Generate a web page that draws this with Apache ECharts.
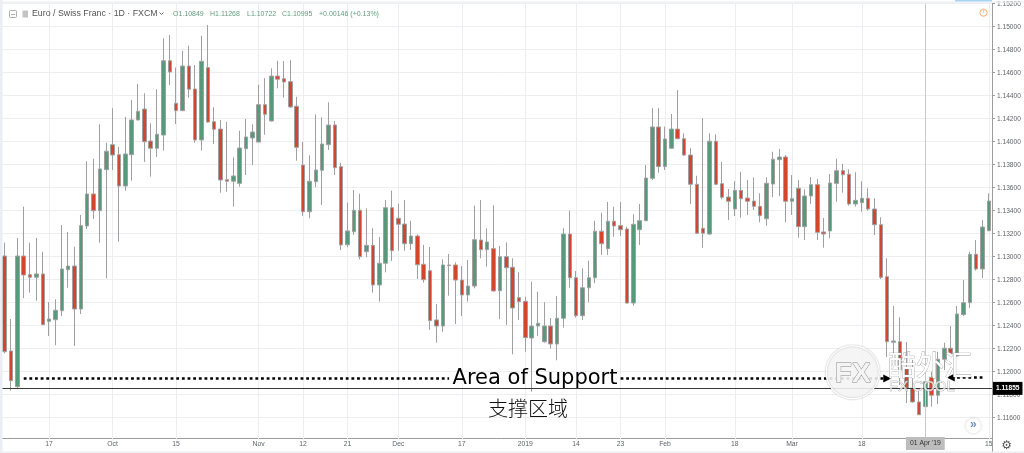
<!DOCTYPE html>
<html><head><meta charset="utf-8">
<style>html,body{margin:0;padding:0;background:#fff}#c{width:1024px;height:453px}#c canvas{filter:blur(.4px)}</style>
<script src="https://cdn.jsdelivr.net/npm/echarts@6/dist/echarts.min.js"></script>
</head><body><div id="c"></div>
<script>
const opens=[1.13006,1.1218,1.1187,1.13006,1.12844,1.12821,1.1285,1.12438,1.12452,1.1253,1.12887,1.12919,1.12545,1.13267,1.13545,1.134,1.13757,1.13974,1.13887,1.13615,1.13887,1.14189,1.14284,1.14006,1.13943,1.14058,1.14704,1.14334,1.1427,1.14658,1.14458,1.14015,1.14644,1.14174,1.1411,1.1367,1.13656,1.13638,1.13939,1.14032,1.13997,1.14322,1.1418,1.14571,1.14548,1.14522,1.14308,1.13797,1.13391,1.13652,1.13751,1.13974,1.14145,1.13783,1.13104,1.13217,1.13404,1.13044,1.13099,1.12754,1.12943,1.13426,1.13334,1.13284,1.13113,1.1318,1.12934,1.12878,1.1245,1.12397,1.12922,1.12928,1.12797,1.12667,1.12745,1.13145,1.13061,1.1307,1.12704,1.13,1.12908,1.12644,1.12612,1.12293,1.12397,1.12261,1.12397,1.12241,1.12464,1.13197,1.12817,1.12487,1.1273,1.12817,1.13221,1.1307,1.13308,1.1327,1.13241,1.12597,1.13235,1.13313,1.13682,1.14128,1.13784,1.13943,1.1411,1.14026,1.13884,1.1363,1.13247,1.13197,1.14004,1.13635,1.13519,1.13415,1.13577,1.1351,1.13484,1.13438,1.1333,1.13632,1.13844,1.13867,1.13482,1.13595,1.13261,1.13528,1.13626,1.13215,1.13224,1.13638,1.13748,1.13717,1.13458,1.1347,1.13508,1.13415,1.13278,1.12826,1.12256,1.12261,1.12032,1.11858,1.11737,1.11696,1.11951,1.11795,1.12108,1.12204,1.12137,1.12496,1.126,1.13021,1.12893,1.13226];
const closes=[1.12174,1.11922,1.13006,1.12841,1.12821,1.1285,1.12409,1.12458,1.12534,1.12893,1.12919,1.12545,1.1327,1.13545,1.134,1.13763,1.13917,1.13884,1.13615,1.13893,1.14189,1.14264,1.14,1.13943,1.14064,1.14704,1.14606,1.1427,1.14658,1.14456,1.14015,1.14699,1.14171,1.14108,1.13667,1.13656,1.13702,1.13945,1.14041,1.14084,1.14322,1.14238,1.14571,1.14543,1.14519,1.14302,1.13951,1.13391,1.13656,1.13754,1.1398,1.14145,1.13774,1.13102,1.13224,1.13404,1.13,1.13099,1.12754,1.12943,1.13426,1.13052,1.13282,1.13113,1.1318,1.1293,1.128,1.12444,1.12397,1.12928,1.12928,1.12797,1.12667,1.12745,1.13148,1.13061,1.13128,1.12702,1.13,1.12904,1.12554,1.12609,1.12296,1.12397,1.12421,1.12397,1.12241,1.12464,1.13197,1.12817,1.12487,1.1273,1.12817,1.13221,1.13113,1.13308,1.13267,1.13235,1.12597,1.13282,1.13313,1.13684,1.14128,1.13784,1.14024,1.1411,1.14026,1.13884,1.1363,1.13204,1.13204,1.14004,1.1363,1.13517,1.13482,1.13577,1.13504,1.13482,1.13438,1.13357,1.13638,1.13847,1.13867,1.13482,1.13504,1.13261,1.13528,1.13626,1.13212,1.13197,1.13641,1.13748,1.13713,1.13458,1.1349,1.13508,1.13415,1.13278,1.12821,1.12261,1.12267,1.12015,1.11858,1.11737,1.11626,1.11913,1.11795,1.12108,1.12204,1.12157,1.12502,1.126,1.13021,1.12893,1.13258,1.13484];
const lows=[1.1216,1.11835,1.11858,1.12641,1.12687,1.12617,1.12406,1.1231,1.1223,1.12484,1.1273,1.12224,1.12502,1.13241,1.13328,1.13122,1.12812,1.13754,1.1313,1.13574,1.13661,1.14185,1.13824,1.13696,1.13867,1.13922,1.14493,1.14154,1.14267,1.14383,1.13991,1.13922,1.14167,1.1398,1.13557,1.13565,1.13435,1.13609,1.1371,1.13797,1.13993,1.14061,1.14176,1.14464,1.14383,1.14296,1.13835,1.13354,1.13334,1.13604,1.1345,1.13928,1.1371,1.13058,1.13082,1.13189,1.12977,1.12995,1.12687,1.12609,1.12864,1.12963,1.13052,1.13052,1.13058,1.12806,1.12774,1.12363,1.12252,1.12348,1.12661,1.12415,1.12484,1.12609,1.12725,1.12986,1.12913,1.12696,1.12456,1.12406,1.12151,1.1245,1.12174,1.11826,1.1231,1.12252,1.122,1.12099,1.12383,1.1273,1.1247,1.1245,1.12604,1.12769,1.13015,1.13015,1.13174,1.1318,1.12593,1.12574,1.13102,1.13309,1.13667,1.1373,1.13754,1.13938,1.14022,1.13876,1.13458,1.13199,1.13078,1.13189,1.13621,1.13499,1.13319,1.13354,1.13339,1.13363,1.13406,1.13299,1.1327,1.13517,1.13528,1.13299,1.13363,1.13165,1.13145,1.13458,1.13145,1.13078,1.1316,1.13478,1.13557,1.13444,1.13435,1.13391,1.134,1.13189,1.12806,1.12128,1.1213,1.11884,1.11728,1.11732,1.11623,1.11684,1.11696,1.11717,1.12015,1.12152,1.12132,1.12484,1.12554,1.12878,1.12815,1.13222];
const highs=[1.13122,1.12458,1.13163,1.13435,1.13122,1.13163,1.13044,1.12606,1.1263,1.13276,1.13215,1.13087,1.13363,1.1383,1.13852,1.14151,1.13991,1.14291,1.13954,1.14217,1.14363,1.14502,1.14421,1.1416,1.14456,1.14899,1.14928,1.14644,1.14789,1.14835,1.14667,1.14922,1.15015,1.14299,1.14189,1.14171,1.13864,1.14096,1.14197,1.14151,1.14496,1.14554,1.14638,1.14704,1.14702,1.14708,1.14391,1.13997,1.13882,1.14238,1.14212,1.14343,1.1418,1.13817,1.1347,1.1358,1.13548,1.13421,1.13247,1.13171,1.13493,1.13574,1.13461,1.13493,1.13313,1.13195,1.13102,1.13084,1.12589,1.12977,1.13024,1.12951,1.12919,1.12971,1.13444,1.13493,1.13247,1.13447,1.13093,1.13125,1.12986,1.12864,1.12652,1.12783,1.12696,1.12604,1.12467,1.12658,1.13247,1.134,1.12876,1.12899,1.12965,1.13313,1.13383,1.13476,1.13435,1.13476,1.13261,1.13369,1.13458,1.13797,1.14291,1.14291,1.14131,1.14241,1.1445,1.14073,1.13943,1.13704,1.14204,1.14073,1.14064,1.13824,1.13589,1.13658,1.13739,1.13667,1.1369,1.13551,1.1369,1.13913,1.13937,1.13884,1.1371,1.13667,1.13586,1.13693,1.13676,1.13337,1.13719,1.13852,1.13806,1.1376,1.13734,1.13656,1.13595,1.13508,1.13343,1.12986,1.12571,1.12473,1.12258,1.12102,1.11832,1.11957,1.12,1.12174,1.12252,1.12397,1.12571,1.12797,1.13044,1.13145,1.13317,1.13551];
const tickDates=['2018-09-17','2018-10-01','2018-10-15','2018-11-01','2018-11-12','2018-11-21','2018-12-03','2018-12-17','2019-01-02','2019-01-14','2019-01-23','2019-02-01','2019-02-18','2019-03-01','2019-03-18','2019-04-01','2019-04-15'];
const tickLabels=['17','Oct','15','Nov','12','21','Dec','17','2019','14','23','Feb','18','Mar','18','','15'];
const closedDays=['2018-12-25','2019-01-01'];
const supportPrice=1.1194, supportPriceRight=1.1195, lastPrice=1.11855, cursorDate='2019-04-01';
const headerOHLC=['O1.10849','H1.11268','L1.10722','C1.10995','+0.00146 (+0.13%)'];

const categories=[];
for(let d=new Date(Date.UTC(2018,8,6));categories.length<156;d=new Date(d.getTime()+864e5)){
  const s=d.toISOString().slice(0,10),w=d.getUTCDay();
  if(w!==0&&w!==6&&!closedDays.includes(s))categories.push(s);
}
const labelOf={};tickDates.forEach((d,i)=>labelOf[d]=tickLabels[i]);
const candles=categories.map((_,i)=>[opens[i],closes[i],lows[i],highs[i]]);
const GREEN='#57997a',RED='#d5442f',WICK='#a0a0a0',GRID='#eceef1',AXIS='#9c9c9c',TXT='#62646a';
const sans='"Liberation Sans",Arial,sans-serif';
const chart=echarts.init(document.getElementById('c'),null,{renderer:'canvas'});
const dotted={type:[2.8,2.85],width:2.6,color:'#000',cap:'butt'};
const txt=(x,y,text,fill,font,z,extra)=>({type:'text',silent:true,z:z||100,x,y,style:Object.assign({text,fill,font,verticalAlign:'middle'},extra||{})});
chart.setOption({
  animation:false,backgroundColor:'#fff',
  grid:{left:1.5,right:32,top:3.7,bottom:12.3,containLabel:false},
  xAxis:{type:'category',data:categories,boundaryGap:true,offset:-2.7,
    axisLine:{lineStyle:{color:AXIS,width:1}},
    axisTick:{show:true,alignWithLabel:true,length:2,interval:(i,v)=>v in labelOf,lineStyle:{color:AXIS}},
    axisLabel:{margin:3,fontSize:6.8,color:TXT,fontFamily:sans,interval:(i,v)=>v in labelOf,formatter:v=>labelOf[v]||''},
    splitLine:{show:false},
    axisPointer:{show:true,status:'show',value:cursorDate,type:'line',lineStyle:{color:'#c9c9c9',width:1,type:'solid'},
      label:{show:true,margin:-1,formatter:()=>"01 Apr '19",fontSize:6.8,fontFamily:sans,color:'#333',backgroundColor:'#bdbdbd',padding:[3,4,3,4],borderRadius:0}}},
  yAxis:{type:'value',position:'right',scale:true,min:1.114,max:1.152,interval:0.002,
    axisLine:{show:true,lineStyle:{color:AXIS,width:1}},
    axisTick:{show:true,length:3,lineStyle:{color:AXIS}},
    axisLabel:{show:true,margin:5,fontSize:6.6,color:TXT,fontFamily:sans,showMinLabel:false,formatter:v=>v.toFixed(5)},
    splitLine:{show:true,showMinLine:false,lineStyle:{color:GRID,width:1}},
    axisPointer:{show:true,status:'show',value:lastPrice,type:'line',lineStyle:{color:'#3a3a3a',width:1,type:'solid'},
      label:{show:true,margin:1,formatter:()=>lastPrice.toFixed(5),fontSize:6.6,fontWeight:'bold',fontFamily:sans,color:'#fff',backgroundColor:'#000',padding:[3,3,3,3],borderRadius:0}}},
  series:[
    {type:'line',name:'dates',data:[],z:1,silent:true,
      markLine:{silent:true,z:1,symbol:'none',animation:false,label:{show:false},lineStyle:{color:GRID,width:1,type:'solid'},
        data:tickDates.map(d=>({xAxis:d}))}},
    {type:'candlestick',name:'EURCHF',data:candles,z:2,barWidth:4,silent:true,
      itemStyle:{color:GREEN,color0:RED,borderColor:WICK,borderColor0:WICK,borderColorDoji:WICK,borderWidth:1},
      markLine:{silent:true,z:6,animation:false,label:{show:false},
        data:[
          [{coord:[categories[3],supportPrice],symbol:'none',lineStyle:dotted},{coord:[categories[70],supportPrice],symbol:'none'}],
          [{coord:[categories[97],supportPrice],symbol:'none',lineStyle:dotted},{coord:[categories[139],supportPrice],symbol:'triangle',symbolSize:8,symbolRotate:-90,itemStyle:{color:'#000'}}],
          [{coord:[categories[154],supportPriceRight],symbol:'none',lineStyle:dotted},{coord:[categories[149],supportPriceRight],symbol:'triangle',symbolSize:8,symbolRotate:90,itemStyle:{color:'#000'}}]
        ]}}
  ],
  graphic:[
    {type:'rect',silent:true,z:100,shape:{x:0,y:0,width:2.5,height:453},style:{fill:'#eceef4'}},
    {type:'rect',silent:true,z:100,shape:{x:0,y:1.5,width:1024,height:1.2},style:{fill:'#eceef2'}},
    {type:'rect',silent:true,z:100,shape:{x:0,y:451.5,width:1024,height:1.5},style:{fill:'#eceef2'}},
    {type:'rect',silent:true,z:100,shape:{x:955,y:0,width:37,height:1.5},style:{fill:'#a9d3f3'}},
    {type:'rect',silent:true,z:99,shape:{x:992,y:440,width:1,height:12},style:{fill:AXIS}},
    {type:'rect',silent:true,z:100,shape:{x:9.5,y:10.5,width:7,height:7,r:1},style:{fill:'none',stroke:'#9a9a9a',lineWidth:.8}},
    {type:'rect',silent:true,z:100,shape:{x:11,y:14,width:4,height:.8},style:{fill:'#9a9a9a'}},
    {type:'rect',silent:true,z:100,shape:{x:22.5,y:10.5,width:5.5,height:7},style:{fill:'#c4c4c4'}},
    txt(32,13.7,'Euro / Swiss Franc · 1D · FXCM','#555','8.8px '+sans),
    {type:'polyline',silent:true,z:100,shape:{points:[[159.5,12.5],[161.5,14.5],[163.5,12.5]]},style:{fill:'none',stroke:'#5c5c5c',lineWidth:.9}},
    ...headerOHLC.map((t,i)=>txt([173,210,247,282,319][i],14,t,'#5f9c7e','7px '+sans)),
    {type:'circle',silent:true,z:100,shape:{cx:983.5,cy:12.7,r:3.6},style:{fill:'#fff',stroke:'#f7a35c',lineWidth:.9}},
    txt(983.5,12.7,'!','#f7a35c','6px '+sans,101,{align:'center'}),
    txt(535,379,'Area of Support','#000','21px "DejaVu Sans",sans-serif',90,{align:'center'}),
    txt(528,408,'支撑区域','#111','300 20px "Noto Sans CJK SC",sans-serif',90,{align:'center'}),
    {type:'circle',silent:true,z:95,shape:{cx:852.7,cy:372.3,r:26.5},style:{fill:'rgba(255,255,255,.85)',stroke:'#fff',lineWidth:1.4,shadowBlur:1.5,shadowColor:'rgba(0,0,0,.3)'}},
    txt(852.7,374,'FX','#f4f4f4','bold 28px '+sans,96,{align:'center',stroke:'#8a8a8a',lineWidth:.9}),
    txt(888,365.5,'酷外汇','#fff','28px "Noto Sans CJK SC",sans-serif',96,{stroke:'#9a9a9a',lineWidth:.7}),
    txt(889,386.5,'FX COOL','rgba(255,255,255,.7)','15px '+sans,96,{stroke:'#9a9a9a',lineWidth:.6}),
    {type:'circle',silent:true,z:100,shape:{cx:973.3,cy:425.7,r:7.5},style:{fill:'#fff',shadowBlur:3,shadowColor:'rgba(0,0,0,.2)'}},
    txt(973.3,425,'»','#6f8fc0','bold 12px '+sans,101,{align:'center'}),
    txt(1006.7,446,'⚙','#555','12px "DejaVu Sans"',100,{align:'center'})
  ]
});
</script></body></html>
